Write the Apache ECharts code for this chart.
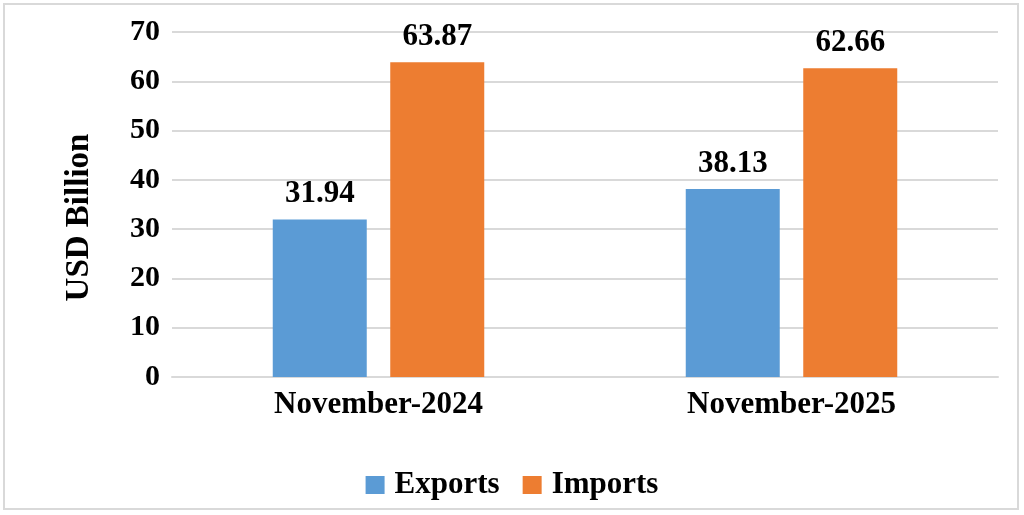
<!DOCTYPE html>
<html>
<head>
<meta charset="utf-8">
<script src="https://cdn.jsdelivr.net/npm/echarts@6/dist/echarts.min.js"></script>
<style>
html,body{margin:0;padding:0;background:#fff;}
#chart{width:1024px;height:515px;}
</style>
</head>
<body>
<div id="chart"></div>
<script>
const categories = ['November-2024', 'November-2025'];
const exportsData = [31.94, 38.13];
const importsData = [63.87, 62.66];
const seriesNames = ['Exports', 'Imports'];
const yTitle = 'USD Billion';

const FONT = '"Liberation Serif", "DejaVu Serif", serif';
const chart = echarts.init(document.getElementById('chart'), null, {renderer: 'canvas'});
const labelStyle = {show: true, position: 'top', distance: 10, fontFamily: FONT, fontWeight: 'bold', fontSize: 31, color: '#000', formatter: p => p.value.toFixed(2)};
chart.setOption({
  animation: false,
  backgroundColor: '#fff',
  graphic: [{
    type: 'rect', shape: {x: 4, y: 4, width: 1014, height: 505},
    style: {fill: 'none', stroke: '#d9d9d9', lineWidth: 2}, silent: true, z: -1
  }],
  grid: {left: 172, right: 26, top: 32, bottom: 138, containLabel: false},
  legend: {
    top: 463, left: 'center', itemWidth: 19, itemHeight: 18, itemGap: 23,
    icon: 'rect',
    textStyle: {fontFamily: FONT, fontWeight: 'bold', fontSize: 31, lineHeight: 34, color: '#000', padding: [0, 0, 0, 5]},
    data: seriesNames
  },
  xAxis: {
    type: 'category', data: categories,
    axisLine: {show: true, lineStyle: {color: '#d9d9d9', width: 2}},
    axisTick: {show: false},
    axisLabel: {fontFamily: FONT, fontWeight: 'bold', fontSize: 31, color: '#000', margin: 12}
  },
  yAxis: {
    type: 'value', min: 0, max: 70, interval: 10,
    name: yTitle, nameLocation: 'middle', nameGap: 76, nameRotate: 90,
    nameTextStyle: {fontFamily: FONT, fontWeight: 'bold', fontSize: 33, color: '#000', padding: [0, 26, 0, 0]},
    axisLine: {show: false}, axisTick: {show: false},
    axisLabel: {fontFamily: FONT, fontWeight: 'bold', fontSize: 30, color: '#000', margin: 12},
    splitLine: {lineStyle: {color: '#d9d9d9', width: 2}}
  },
  series: [
    {name: seriesNames[0], type: 'bar', data: exportsData, barWidth: 94, barGap: '25%',
     itemStyle: {color: '#5B9BD5'}, label: labelStyle},
    {name: seriesNames[1], type: 'bar', data: importsData, barWidth: 94, barGap: '25%',
     itemStyle: {color: '#ED7D31'}, label: labelStyle}
  ]
});
</script>
</body>
</html>
